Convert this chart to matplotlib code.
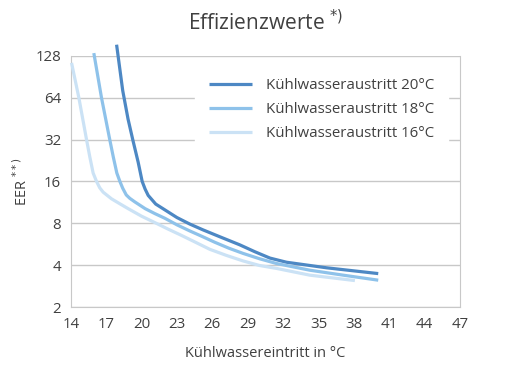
import numpy as np
import matplotlib
matplotlib.use("Agg")
import matplotlib.pyplot as plt

# ── Daten ──
x20 = [17.88, 18.4, 18.85, 19.25, 19.71, 20.05, 20.3, 20.56, 21.2, 21.97, 23.0, 24.09, 25.22,
       26.64, 28.33, 29.6, 30.88, 32.29, 35.69, 40.07]
y20 = [154, 72, 45, 32, 22, 16, 14.1, 12.7, 11.0, 10.0, 8.8, 7.9, 7.17,
       6.4, 5.6, 5.0, 4.5, 4.2, 3.83, 3.48]

x18 = [15.95, 16.6, 17.3, 17.6, 17.9, 18.16, 18.4, 18.7, 19.0, 19.43, 20.3, 21.12, 21.97,
       23.0, 24.09, 25.2, 26.2, 27.4, 28.61, 30.0, 31.45, 34.27, 37.1, 40.07]
y18 = [134, 64, 32, 24, 18.4, 16, 14.3, 12.8, 12.1, 11.4, 10.2, 9.4, 8.7,
       7.8, 7.05, 6.4, 5.85, 5.3, 4.86, 4.45, 4.11, 3.68, 3.39, 3.12]

x16 = [14.06, 14.68, 15.33, 15.61, 15.89, 16.18, 16.45, 16.74, 17.45, 18.2, 18.86, 20.0,
       21.12, 22.2, 23.3, 24.3, 25.79, 27.2, 28.61, 30.0, 31.45, 34.27, 38.09]
y16 = [114, 64, 32, 24, 18.4, 16, 14.4, 13.4, 12.0, 11.0, 10.2, 9.0,
       8.1, 7.3, 6.6, 6.0, 5.2, 4.7, 4.29, 3.98, 3.79, 3.39, 3.10]

series = [
    ("Kühlwasseraustritt 20°C", x20, y20, "#4d88c4"),
    ("Kühlwasseraustritt 18°C", x18, y18, "#8ec2ea"),
    ("Kühlwasseraustritt 16°C", x16, y16, "#cbe2f5"),
]

xticks = [14, 17, 20, 23, 26, 29, 32, 35, 38, 41, 44, 47]
yticks = [2, 4, 8, 16, 32, 64, 128]

plt.rcParams['font.family'] = ['Open Sans', 'DejaVu Sans']
txt = "#404040"
grid = "#c8c8c8"

fig = plt.figure(figsize=(5.06, 3.80), dpi=100)
ax = fig.add_axes([0.140, 0.192, 0.769, 0.661])

for lab, xs, ys, col in series:
    ax.plot(xs, ys, color=col, lw=2.3, label=lab, clip_on=False,
            solid_capstyle="butt", solid_joinstyle="round", zorder=3)

ax.set_yscale("log", base=2)
ax.set_xlim(14, 47)
ax.set_ylim(2, 128)
ax.set_xticks(xticks)
ax.set_yticks(yticks)
ax.set_yticklabels([str(v) for v in yticks])
ax.minorticks_off()
ax.yaxis.grid(True, color=grid, lw=1)
ax.set_axisbelow(True)
ax.tick_params(length=0, labelsize=10.8, colors=txt, pad=7)
for s in ("left", "bottom", "right"):
    ax.spines[s].set_color(grid)
ax.spines["top"].set_visible(False)

ax.set_xlabel("Kühlwassereintritt in °C", fontsize=10.5, color=txt, labelpad=10)
ax.set_ylabel("EER $^{**)}$", fontsize=10.5, color=txt, labelpad=3)
fig.text(0.525, 0.94, "Effizienzwerte $^{*)}$", ha="center", va="center", fontsize=15, color=txt)

leg = ax.legend(loc="upper left", bbox_to_anchor=(0.30, 0.995), frameon=True, fontsize=10.8,
                handlelength=2.9, handletextpad=0.95, labelspacing=0.6, borderpad=0.9)
leg.get_frame().set_facecolor("white")
leg.get_frame().set_edgecolor("white")
leg.get_frame().set_alpha(1)
leg.get_frame().set_boxstyle("square", pad=0)
for t in leg.get_texts():
    t.set_color(txt)

fig.savefig("out.png", dpi=100)
